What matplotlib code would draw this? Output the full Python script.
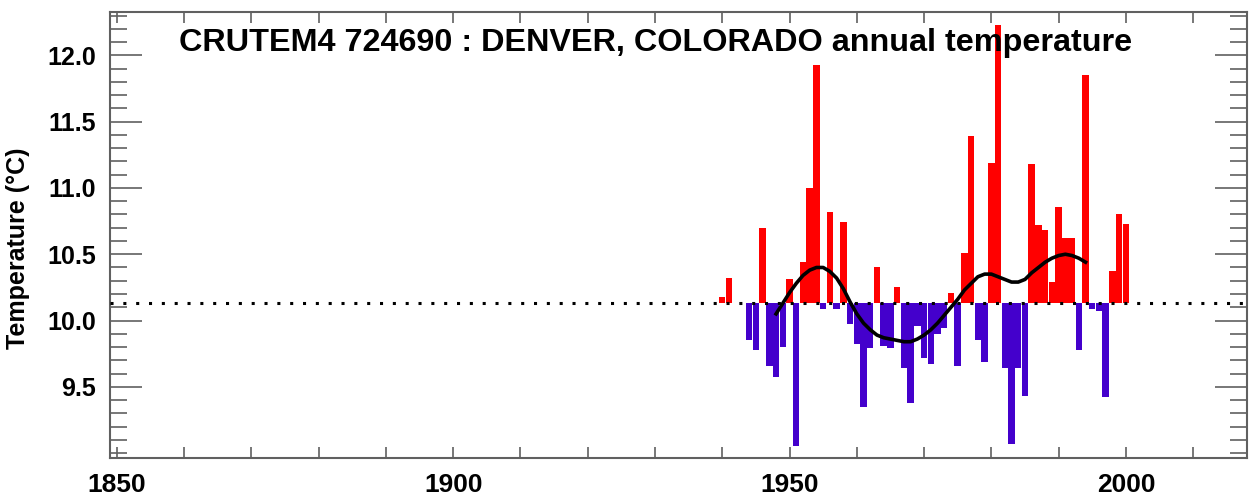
"""
CRUTEM4 station annual temperature: bars around the station mean plus smoothed curve.
"""

import matplotlib
matplotlib.use('Agg')
import matplotlib.pyplot as plt
from matplotlib.ticker import MultipleLocator
import numpy as np

plt.rcParams['font.family'] = ['Liberation Sans', 'DejaVu Sans']
plt.rcParams['font.weight'] = 'bold'

# annual mean temperature (degC), 1942 and 1943 missing
years = [1940, 1941, 1944, 1945, 1946, 1947, 1948, 1949, 1950,
         1951, 1952, 1953, 1954, 1955, 1956, 1957, 1958, 1959, 1960,
         1961, 1962, 1963, 1964, 1965, 1966, 1967, 1968, 1969, 1970,
         1971, 1972, 1973, 1974, 1975, 1976, 1977, 1978, 1979, 1980,
         1981, 1982, 1983, 1984, 1985, 1986, 1987, 1988, 1989, 1990,
         1991, 1992, 1993, 1994, 1995, 1996, 1997, 1998, 1999, 2000]
temps = [10.18, 10.32, 9.855, 9.78, 10.70, 9.66, 9.575, 9.80, 10.31,
         9.05, 10.44, 11.00, 11.93, 10.09, 10.82, 10.09, 10.74, 9.97, 9.82,
         9.35, 9.79, 10.40, 9.81, 9.79, 10.25, 9.64, 9.38, 9.955, 9.72,
         9.67, 9.90, 9.94, 10.21, 9.66, 10.51, 11.39, 9.85, 9.69, 11.19,
         12.23, 9.645, 9.065, 9.64, 9.43, 11.18, 10.72, 10.68, 10.29, 10.86,
         10.62, 10.62, 9.775, 11.85, 10.09, 10.07, 9.42, 10.37, 10.80, 10.73]
baseline = 10.13

# smoothed curve
smooth_years = list(range(1948, 1995))
smooth_vals = [10.05, 10.13, 10.21, 10.28, 10.34, 10.38, 10.40, 10.40, 10.37,
               10.32, 10.24, 10.14, 10.05, 9.98, 9.93, 9.89, 9.87, 9.86, 9.85,
               9.84, 9.84, 9.86, 9.89, 9.93, 9.98, 10.04, 10.10, 10.16, 10.23,
               10.28, 10.33, 10.35, 10.35, 10.33, 10.31, 10.29, 10.29, 10.31,
               10.36, 10.40, 10.44, 10.47, 10.49, 10.50, 10.49, 10.47, 10.44]

title = 'CRUTEM4 724690 : DENVER, COLORADO annual temperature'

fig = plt.figure(figsize=(12.49, 4.99), dpi=100)
ax = fig.add_axes([0.0881, 0.0828, 0.9103, 0.8938])

t = np.array(temps)
colors = ['#ff0000' if v >= baseline else '#4400cc' for v in t]
ax.bar(years, t - baseline, bottom=baseline, width=0.96, color=colors,
       edgecolor='none', zorder=2)

ax.axhline(baseline, color='black', linestyle=(0, (1, 3.2)), linewidth=2.2, zorder=3)
ax.plot(smooth_years, smooth_vals, color='black', linewidth=2.6, zorder=4)

ax.set_xlim(1849, 2018)
ax.set_ylim(8.965, 12.33)

ax.xaxis.set_major_locator(MultipleLocator(50))
ax.xaxis.set_minor_locator(MultipleLocator(10))
ax.yaxis.set_minor_locator(MultipleLocator(0.1))
ax.set_yticks([9.5, 10.0, 10.5, 11.0, 11.5, 12.0])
ax.set_yticklabels(['9.5', '10.0', '10.5', '11.0', '11.5', '12.0'])

ax.tick_params(axis='x', which='both', direction='in', top=True, length=8,
               width=1.2, color='#606060', labelsize=19, pad=11)
ax.tick_params(axis='y', which='major', direction='in', right=True, length=23,
               width=1.2, color='#606060', labelsize=18, pad=10)
ax.tick_params(axis='y', which='minor', direction='in', right=True, length=12,
               width=1.2, color='#606060')

for sp in ax.spines.values():
    sp.set_color('#606060')
    sp.set_linewidth(1.5)

ax.set_ylabel('Temperature (°C)', fontsize=18, fontweight='bold')
ax.yaxis.set_label_coords(-0.07, 0.47)
ax.text(0.48, 0.93, title, transform=ax.transAxes, ha='center', va='center',
        fontsize=23.3, fontweight='bold')

plt.savefig('out.png', dpi=100)
plt.close()
